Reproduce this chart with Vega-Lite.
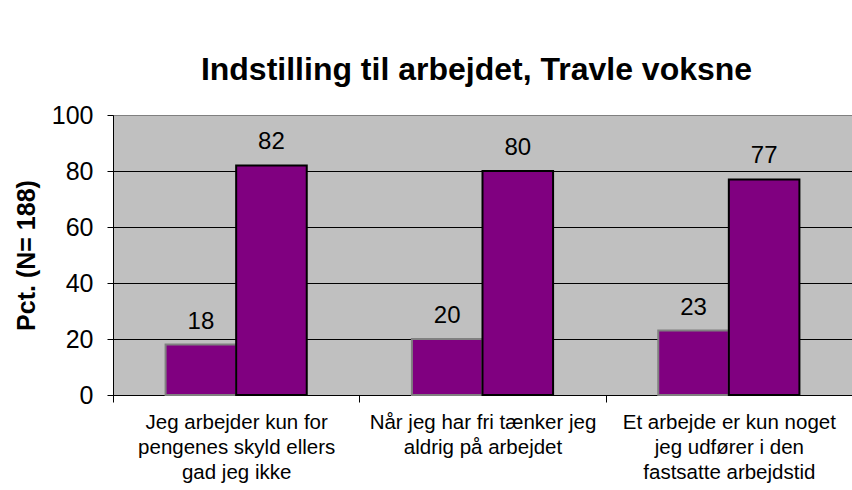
{
  "$schema": "https://vega.github.io/schema/vega-lite/v6.json",
  "autosize": {"type": "none"},
  "width": 739,
  "height": 280,
  "padding": {"left": 113, "top": 115, "right": 0, "bottom": 95},
  "background": "white",
  "config": {
    "font": "Liberation Sans",
    "view": {"fill": "#C0C0C0", "stroke": "#808080", "strokeWidth": 1}
  },
  "title": {
    "text": "Indstilling til arbejdet, Travle voksne",
    "fontSize": 32,
    "fontWeight": "bold",
    "font": "Liberation Sans",
    "color": "black",
    "anchor": "middle",
    "dx": -6,
    "offset": 16
  },
  "data": {
    "values": [
      {"spm": "Jeg arbejder kun for|pengenes skyld ellers|gad jeg ikke", "svar": "Helt/lidt uenig", "pct": 18},
      {"spm": "Jeg arbejder kun for|pengenes skyld ellers|gad jeg ikke", "svar": "Helt/nogenlunde enig", "pct": 82},
      {"spm": "Når jeg har fri tænker jeg|aldrig på arbejdet", "svar": "Helt/lidt uenig", "pct": 20},
      {"spm": "Når jeg har fri tænker jeg|aldrig på arbejdet", "svar": "Helt/nogenlunde enig", "pct": 80},
      {"spm": "Et arbejde er kun noget|jeg udfører i den|fastsatte arbejdstid", "svar": "Helt/lidt uenig", "pct": 23},
      {"spm": "Et arbejde er kun noget|jeg udfører i den|fastsatte arbejdstid", "svar": "Helt/nogenlunde enig", "pct": 77}
    ]
  },
  "encoding": {
    "x": {
      "field": "spm",
      "type": "nominal",
      "sort": null,
      "scale": {"paddingInner": 0, "paddingOuter": 0},
      "axis": {
        "title": null,
        "labelAngle": 0,
        "labelExpr": "split(datum.label, '|')",
        "labelFontSize": 20.5,
        "labelLineHeight": 25,
        "labelColor": "black",
        "labelPadding": 10,
        "labelLimit": 300,
        "tickBand": "extent",
        "tickColor": "black",
        "tickSize": 7,
        "domainColor": "black",
        "grid": false
      }
    },
    "xOffset": {
      "field": "svar",
      "type": "nominal",
      "sort": ["Helt/lidt uenig", "Helt/nogenlunde enig"],
      "scale": {"paddingInner": 0, "paddingOuter": 0.745}
    },
    "y": {
      "field": "pct",
      "type": "quantitative",
      "scale": {"domain": [0, 100]},
      "axis": {
        "title": "Pct. (N= 188)",
        "titleFontSize": 25,
        "titleFontWeight": "bold",
        "titleColor": "black",
        "titlePadding": 12,
        "values": [0, 20, 40, 60, 80, 100],
        "labelFontSize": 25,
        "labelColor": "black",
        "labelPadding": 14,
        "tickColor": "black",
        "tickSize": 6,
        "domainColor": "black",
        "grid": true,
        "gridColor": {"condition": {"test": "datum.value == 100", "value": "#808080"}, "value": "black"},
        "gridWidth": 1
      }
    }
  },
  "layer": [
    {
      "mark": {"type": "bar", "strokeWidth": 2},
      "encoding": {
        "fill": {"value": "#800080"},
        "color": {
          "field": "svar",
          "type": "nominal",
          "scale": {"domain": ["Helt/nogenlunde enig", "Helt/lidt uenig"], "range": ["#800080", "#9999FF"]},
          "legend": {
            "title": null,
            "orient": "none",
            "legendX": 455,
            "legendY": -53,
            "fillColor": "white",
            "strokeColor": "black",
            "padding": 8,
            "labelFontSize": 19,
            "labelColor": "black",
            "labelLimit": 400,
            "symbolType": "square",
            "symbolSize": 180,
            "rowPadding": 8,
            "labelOffset": 3,
            "encode": {
              "symbols": {
                "update": {
                  "stroke": {"value": "black"},
                  "strokeWidth": {"value": 1.5},
                  "opacity": {"value": 1}
                }
              }
            }
          }
        },
        "stroke": {
          "field": "svar",
          "type": "nominal",
          "scale": {"domain": ["Helt/nogenlunde enig", "Helt/lidt uenig"], "range": ["black", "#808080"]},
          "legend": null
        }
      }
    },
    {
      "mark": {"type": "text", "fontSize": 24, "color": "black", "baseline": "alphabetic", "dy": -16},
      "encoding": {
        "text": {"field": "pct", "type": "quantitative"}
      }
    }
  ]
}
